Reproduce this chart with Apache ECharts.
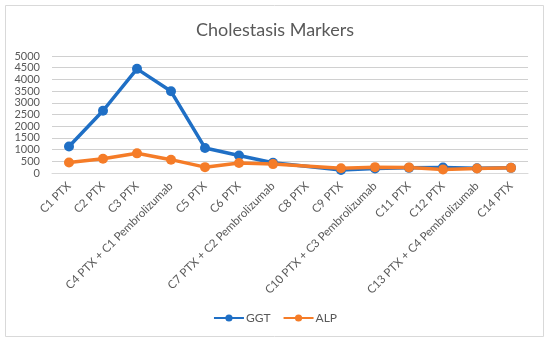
<!DOCTYPE html>
<html>
<head>
<meta charset="utf-8">
<script src="https://cdn.jsdelivr.net/npm/echarts@6/dist/echarts.min.js"></script>
<style>html,body{margin:0;padding:0;background:#fff}#c{width:550px;height:343px}</style>
</head>
<body>
<div id="c"></div>
<script>
var categories = ['C1 PTX','C2 PTX','C3 PTX','C4 PTX + C1 Pembrolizumab','C5 PTX','C6 PTX','C7 PTX + C2 Pembrolizumab','C8 PTX','C9 PTX','C10 PTX + C3 Pembrolizumab','C11 PTX','C12 PTX','C13 PTX + C4 Pembrolizumab','C14 PTX'];
var ggt = [1130, 2660, 4450, 3490, 1070, 750, 440, null, 130, 190, 220, 230, 200, 220];
var alp = [450, 610, 840, 570, 250, 430, 380, null, 200, 250, 240, 150, 190, 220];
var yTicks = [0, 500, 1000, 1500, 2000, 2500, 3000, 3500, 4000, 4500, 5000];

var font = 'Lato, "Open Sans", sans-serif';
var chart = echarts.init(document.getElementById('c'), null, {renderer: 'canvas'});
chart.setOption({
  animation: false,
  backgroundColor: '#fff',
  graphic: [{type: 'rect', shape: {x: 5.5, y: 5.5, width: 538, height: 331}, style: {fill: 'none', stroke: '#d9d9d9', lineWidth: 1}, silent: true}],
  title: {text: 'Cholestasis Markers', left: 'center', top: 16, textStyle: {fontFamily: font, fontSize: 18, fontWeight: 'normal', color: '#595959'}},
  legend: {bottom: 14, left: 'center', itemWidth: 30, itemHeight: 9, itemGap: 12, data: ['GGT','ALP'], textStyle: {fontFamily: font, fontSize: 12, color: '#595959', padding: [0, 0, 0, -3]}},
  grid: {left: 52, right: 22, top: 56, bottom: 170, containLabel: false},
  xAxis: {type: 'category', data: categories, boundaryGap: true,
    axisLine: {lineStyle: {color: '#d9d9d9'}}, axisTick: {show: false},
    axisLabel: {rotate: 45, interval: 0, fontFamily: font, fontSize: 11.5, color: '#595959', margin: 11}},
  yAxis: {type: 'value', min: yTicks[0], max: yTicks[yTicks.length-1], interval: 500,
    axisLine: {show: false}, axisTick: {show: false},
    splitLine: {lineStyle: {color: '#d0d0d0'}},
    axisLabel: {fontFamily: font, fontSize: 11, color: '#595959', margin: 12, showMinLabel: true, showMaxLabel: true, formatter: function (v) { return String(v); }}},
  series: [
    {name: 'GGT', type: 'line', data: ggt, connectNulls: true, symbol: 'circle', symbolSize: 10, color: '#1f6fc5', lineStyle: {width: 3.5}},
    {name: 'ALP', type: 'line', data: alp, connectNulls: true, symbol: 'circle', symbolSize: 10, color: '#f57c28', lineStyle: {width: 3.5}}
  ]
});
</script>
</body>
</html>
